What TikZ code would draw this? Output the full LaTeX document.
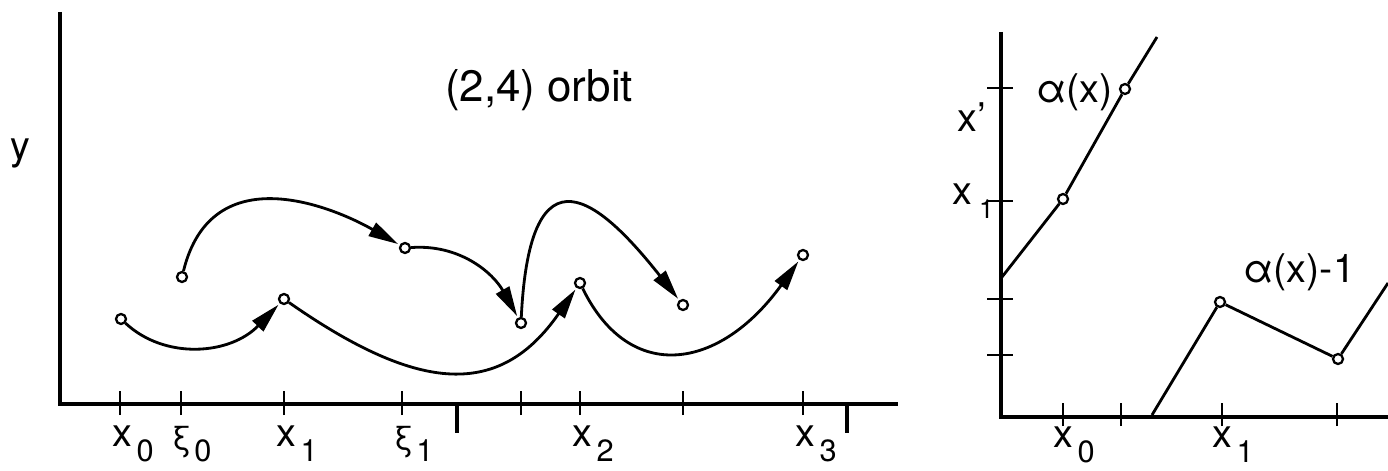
\documentclass[tikz,border=0pt]{standalone}
\usepackage{fontspec}
\setmainfont{TeX Gyre Heros}
\usetikzlibrary{arrows.meta}

% label with a low, detached subscript
\newcommand\sublbl[2]{#1\hspace{2.5pt}\raisebox{-0.4em}{\fontsize{17.5}{18}\selectfont #2}}
\newcommand\xilbl[1]{{\fontsize{19}{20}\selectfont ξ}\hspace{2pt}\raisebox{-0.3em}{\fontsize{17.5}{18}\selectfont #1}}

\tikzset{
    axis/.style={line width=2.8pt},
    tickmark/.style={line width=1.2pt},
    tallmark/.style={line width=2.4pt},
    pt/.style={circle, draw, line width=1.3pt, fill=white,
        inner sep=0pt, minimum size=0.2cm},
    orbit/.style={line width=1.6pt,
        -{Triangle[length=17pt,width=8.5pt]}, shorten >=1pt},
    graph/.style={line width=1.6pt},
    lbl/.style={font=\fontsize{22.5}{24}\selectfont, anchor=base west, inner sep=0pt},
}

\begin{document}
\begin{tikzpicture}[x=0.02cm, y=0.02cm]
    \useasboundingbox (0,0) rectangle (1388,470);

    % left: the orbit
    \draw [axis]
        (60,458) -- (60,66) -- (898,66)
        ;
    \foreach \x in {120,181,284,402,521,580,683,803}
        \draw [tickmark] (\x,55) -- (\x,79);
    \foreach \x in {457,847}
        \draw [tallmark] (\x,66) -- (\x,37);

    \node [lbl] (ly) at (10,310) {y};
    \node [font=\fontsize{25}{27}\selectfont, anchor=base] (title) at (539,368) {(2,4) orbit};

    \node [lbl] (lx0) at (112,24) {\sublbl{x}{0}};
    \node [lbl] (lxi0) at (172,20) {\xilbl{0}};
    \node [lbl] (lx1) at (276,24) {\sublbl{x}{1}};
    \node [lbl] (lxi1) at (394,20) {\xilbl{1}};
    \node [lbl] (lx2) at (572,24) {\sublbl{x}{2}};
    \node [lbl] (lx3) at (795,24) {\sublbl{x}{3}};

    \node [pt] (x0) at (121,151) {};
    \node [pt] (xi0) at (182,193) {};
    \node [pt] (x1) at (284,171) {};
    \node [pt] (xi1) at (405,222) {};
    \node [pt] (pa) at (521,147) {};
    \node [pt] (x2) at (580,187) {};
    \node [pt] (pb) at (683,165) {};
    \node [pt] (x3) at (803,215) {};

    \draw [orbit] (x0) .. controls +(44,-41) and +(-54,-56) .. (x1);
    \draw [orbit] (x1) .. controls +(136,-95) and +(-80,-115) .. (x2);
    \draw [orbit] (x2) .. controls +(50,-102) and +(-83,-115) .. (x3);
    \draw [orbit] (xi0) .. controls +(30,122) and +(-70,40) .. (xi1);
    \draw [orbit] (xi1) .. controls +(55,4) and +(-28,50) .. (pa);
    \draw [orbit] (pa) .. controls +(9,183) and +(-83,105) .. (pb);

    % right: the map
    \draw [axis]
        (1001,438) -- (1001,53) -- (1388,53)
        ;
    \foreach \y in {382,269,171,115}
        \draw [tickmark] (987,\y) -- (1013,\y);
    \foreach \x in {1063,1121,1222,1337}
        \draw [tickmark] (\x,44) -- (\x,67);

    \node [lbl] (lxp) at (957,338) {x’};
    \node [lbl] (lyx1) at (952,265) {x\hspace{4pt}\raisebox{-0.35em}{\fontsize{15}{16}\selectfont 1}};
    \node [lbl] (rx0) at (1053,23) {\sublbl{x}{0}};
    \node [lbl] (rx1) at (1212,23) {\sublbl{x}{1}};

    \coordinate (a0) at (1002,193);
    \coordinate (a3) at (1157,433);
    \node [pt] (a1) at (1063,271) {};
    \node [pt] (a2) at (1125,381) {};
    \draw [graph] (a0) -- (a1) -- (a2) -- (a3);

    \coordinate (b0) at (1152,55);
    \coordinate (b3) at (1388,187);
    \node [pt] (b1) at (1220,168) {};
    \node [pt] (b2) at (1338,111) {};
    \draw [graph] (b0) -- (b1) -- (b2) -- (b3);

    \node [lbl, anchor=base east] (la) at (1113,367) {α(x)};
    \node [lbl, anchor=base west] (lb) at (1243,187) {α(x)-1};
\end{tikzpicture}
\end{document}
